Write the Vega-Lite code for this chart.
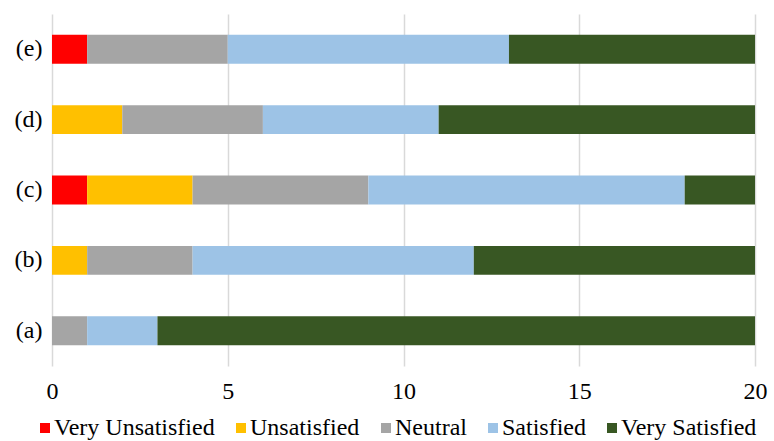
{
  "$schema": "https://vega.github.io/schema/vega-lite/v6.json",
  "autosize": {"type": "none"},
  "width": 703,
  "height": 352,
  "padding": {"left": 52, "top": 14, "right": 19, "bottom": 75},
  "background": "white",
  "config": {
    "font": "Liberation Serif",
    "view": {"stroke": null}
  },
  "data": {
    "values": [
      {"item": "(a)", "level": "Very Unsatisfied", "rank": 1, "count": 0},
      {"item": "(a)", "level": "Unsatisfied", "rank": 2, "count": 0},
      {"item": "(a)", "level": "Neutral", "rank": 3, "count": 1},
      {"item": "(a)", "level": "Satisfied", "rank": 4, "count": 2},
      {"item": "(a)", "level": "Very Satisfied", "rank": 5, "count": 17},
      {"item": "(b)", "level": "Very Unsatisfied", "rank": 1, "count": 0},
      {"item": "(b)", "level": "Unsatisfied", "rank": 2, "count": 1},
      {"item": "(b)", "level": "Neutral", "rank": 3, "count": 3},
      {"item": "(b)", "level": "Satisfied", "rank": 4, "count": 8},
      {"item": "(b)", "level": "Very Satisfied", "rank": 5, "count": 8},
      {"item": "(c)", "level": "Very Unsatisfied", "rank": 1, "count": 1},
      {"item": "(c)", "level": "Unsatisfied", "rank": 2, "count": 3},
      {"item": "(c)", "level": "Neutral", "rank": 3, "count": 5},
      {"item": "(c)", "level": "Satisfied", "rank": 4, "count": 9},
      {"item": "(c)", "level": "Very Satisfied", "rank": 5, "count": 2},
      {"item": "(d)", "level": "Very Unsatisfied", "rank": 1, "count": 0},
      {"item": "(d)", "level": "Unsatisfied", "rank": 2, "count": 2},
      {"item": "(d)", "level": "Neutral", "rank": 3, "count": 4},
      {"item": "(d)", "level": "Satisfied", "rank": 4, "count": 5},
      {"item": "(d)", "level": "Very Satisfied", "rank": 5, "count": 9},
      {"item": "(e)", "level": "Very Unsatisfied", "rank": 1, "count": 1},
      {"item": "(e)", "level": "Unsatisfied", "rank": 2, "count": 0},
      {"item": "(e)", "level": "Neutral", "rank": 3, "count": 4},
      {"item": "(e)", "level": "Satisfied", "rank": 4, "count": 8},
      {"item": "(e)", "level": "Very Satisfied", "rank": 5, "count": 7}
    ]
  },
  "mark": {"type": "bar", "stroke": null},
  "encoding": {
    "y": {
      "field": "item",
      "type": "nominal",
      "sort": "descending",
      "scale": {"paddingInner": 0.59, "paddingOuter": 0.295},
      "axis": {
        "title": null,
        "domain": false,
        "ticks": false,
        "grid": false,
        "labelFont": "Liberation Serif",
        "labelFontSize": 24,
        "labelColor": "black",
        "labelPadding": 10
      }
    },
    "x": {
      "field": "count",
      "type": "quantitative",
      "stack": "zero",
      "scale": {"domain": [0, 20], "nice": false},
      "axis": {
        "title": null,
        "values": [0, 5, 10, 15, 20],
        "domain": false,
        "ticks": false,
        "grid": true,
        "gridColor": "#D9D9D9",
        "gridWidth": 1.5,
        "labelFont": "Liberation Serif",
        "labelFontSize": 24,
        "labelColor": "black",
        "labelPadding": 13,
        "labelFlush": false
      }
    },
    "color": {
      "field": "level",
      "type": "nominal",
      "scale": {
        "domain": ["Very Unsatisfied", "Unsatisfied", "Neutral", "Satisfied", "Very Satisfied"],
        "range": ["#FF0000", "#FFC000", "#A5A5A5", "#9DC3E6", "#385723"]
      },
      "legend": {
        "title": null,
        "orient": "none",
        "legendX": -19,
        "legendY": 402,
        "direction": "horizontal",
        "columns": 5,
        "symbolType": "square",
        "symbolSize": 100,
        "symbolStrokeWidth": 0,
        "labelFont": "Liberation Serif",
        "labelFontSize": 24,
        "labelColor": "black",
        "labelOffset": -3,
        "columnPadding": 14,
        "labelLimit": 300
      }
    },
    "order": {"field": "rank", "type": "quantitative"}
  }
}
